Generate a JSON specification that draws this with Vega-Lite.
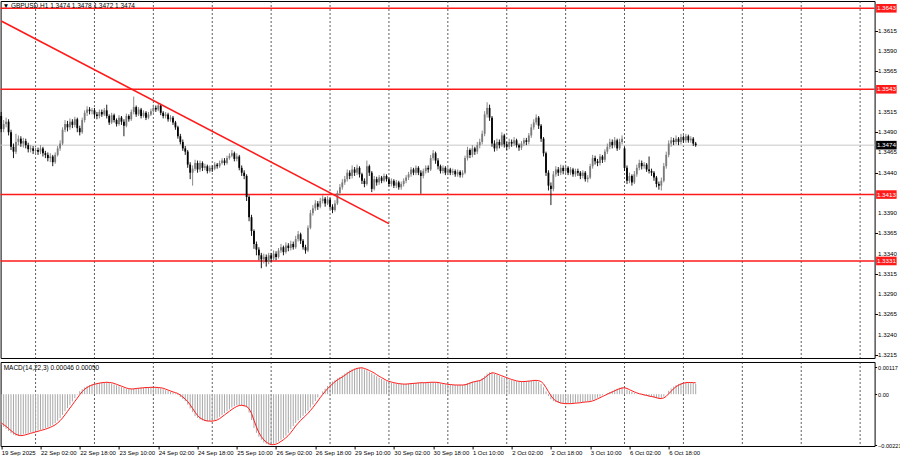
{
"$schema":"https://vega.github.io/schema/vega-lite/v6.json",
"padding":{"left":-3.4,"top":0,"right":0,"bottom":0},
"autosize":{"type":"pad"},
"background":"white",
"spacing":2,
"config":{"view":{"stroke":"#000","strokeWidth":1},"font":"Liberation Sans","axis":{"labelFont":"Liberation Sans","labelFontSize":6.2,"labelColor":"#000","tickColor":"#000","tickSize":3,"domain":false,"grid":false,"labelOverlap":false}},
"datasets":{
"grid":[{"g":14},{"g":38},{"g":62},{"g":86},{"g":110},{"g":134},{"g":158},{"g":182},{"g":206},{"g":230},{"g":254},{"g":278},{"g":302},{"g":326},{"g":350}],
"levels":[{"p":1.3643},{"p":1.3543},{"p":1.3413},{"p":1.3331}],
"ticks":[{"v":1.3215},{"v":1.3240},{"v":1.3265},{"v":1.3290},{"v":1.3315},{"v":1.3340},{"v":1.3365},{"v":1.3390},{"v":1.3440},{"v":1.3465},{"v":1.3490},{"v":1.3515},{"v":1.3565},{"v":1.3590},{"v":1.3615}],
"bars":[
{"i":0,"o":1.3510,"h":1.3515,"l":1.3490,"c":1.3494,"m":-0.00133,"s":-0.00125},
{"i":1,"o":1.3494,"h":1.3505,"l":1.3490,"c":1.3500,"m":-0.00142,"s":-0.00132},
{"i":2,"o":1.3500,"h":1.3508,"l":1.3496,"c":1.3503,"m":-0.00150,"s":-0.00140},
{"i":3,"o":1.3503,"h":1.3506,"l":1.3486,"c":1.3490,"m":-0.00160,"s":-0.00149},
{"i":4,"o":1.3490,"h":1.3493,"l":1.3468,"c":1.3472,"m":-0.00170,"s":-0.00158},
{"i":5,"o":1.3472,"h":1.3476,"l":1.3458,"c":1.3466,"m":-0.00176,"s":-0.00167},
{"i":6,"o":1.3466,"h":1.3488,"l":1.3463,"c":1.3478,"m":-0.00180,"s":-0.00174},
{"i":7,"o":1.3478,"h":1.3486,"l":1.3474,"c":1.3482,"m":-0.00182,"s":-0.00178},
{"i":8,"o":1.3482,"h":1.3485,"l":1.3472,"c":1.3476,"m":-0.00178,"s":-0.00180},
{"i":9,"o":1.3476,"h":1.3483,"l":1.3471,"c":1.3479,"m":-0.00175,"s":-0.00179},
{"i":10,"o":1.3479,"h":1.3482,"l":1.3470,"c":1.3474,"m":-0.00172,"s":-0.00176},
{"i":11,"o":1.3474,"h":1.3477,"l":1.3465,"c":1.3469,"m":-0.00170,"s":-0.00173},
{"i":12,"o":1.3469,"h":1.3474,"l":1.3465,"c":1.3470,"m":-0.00167,"s":-0.00170},
{"i":13,"o":1.3470,"h":1.3473,"l":1.3463,"c":1.3467,"m":-0.00164,"s":-0.00167},
{"i":14,"o":1.3467,"h":1.3471,"l":1.3463,"c":1.3468,"m":-0.00162,"s":-0.00164},
{"i":15,"o":1.3468,"h":1.3471,"l":1.3462,"c":1.3466,"m":-0.00158,"s":-0.00161},
{"i":16,"o":1.3466,"h":1.3474,"l":1.3463,"c":1.3470,"m":-0.00155,"s":-0.00158},
{"i":17,"o":1.3470,"h":1.3472,"l":1.3460,"c":1.3464,"m":-0.00152,"s":-0.00155},
{"i":18,"o":1.3464,"h":1.3467,"l":1.3458,"c":1.3462,"m":-0.00148,"s":-0.00152},
{"i":19,"o":1.3462,"h":1.3465,"l":1.3454,"c":1.3458,"m":-0.00144,"s":-0.00148},
{"i":20,"o":1.3458,"h":1.3464,"l":1.3453,"c":1.3460,"m":-0.00139,"s":-0.00144},
{"i":21,"o":1.3460,"h":1.3462,"l":1.3448,"c":1.3453,"m":-0.00133,"s":-0.00139},
{"i":22,"o":1.3453,"h":1.3465,"l":1.3451,"c":1.3462,"m":-0.00126,"s":-0.00133},
{"i":23,"o":1.3462,"h":1.3473,"l":1.3460,"c":1.3470,"m":-0.00115,"s":-0.00125},
{"i":24,"o":1.3470,"h":1.3480,"l":1.3467,"c":1.3476,"m":-0.00103,"s":-0.00115},
{"i":25,"o":1.3476,"h":1.3496,"l":1.3474,"c":1.3493,"m":-0.00090,"s":-0.00103},
{"i":26,"o":1.3493,"h":1.3505,"l":1.3490,"c":1.3500,"m":-0.00074,"s":-0.00089},
{"i":27,"o":1.3500,"h":1.3504,"l":1.3491,"c":1.3496,"m":-0.00060,"s":-0.00075},
{"i":28,"o":1.3496,"h":1.3507,"l":1.3493,"c":1.3503,"m":-0.00046,"s":-0.00060},
{"i":29,"o":1.3503,"h":1.3506,"l":1.3495,"c":1.3499,"m":-0.00031,"s":-0.00046},
{"i":30,"o":1.3499,"h":1.3509,"l":1.3496,"c":1.3506,"m":-0.00017,"s":-0.00031},
{"i":31,"o":1.3506,"h":1.3508,"l":1.3490,"c":1.3495,"m":-0.00002,"s":-0.00017},
{"i":32,"o":1.3495,"h":1.3498,"l":1.3486,"c":1.3490,"m":0.00013,"s":-0.00002},
{"i":33,"o":1.3490,"h":1.3508,"l":1.3488,"c":1.3505,"m":0.00022,"s":0.00011},
{"i":34,"o":1.3505,"h":1.3517,"l":1.3502,"c":1.3514,"m":0.00030,"s":0.00022},
{"i":35,"o":1.3514,"h":1.3522,"l":1.3510,"c":1.3518,"m":0.00036,"s":0.00029},
{"i":36,"o":1.3518,"h":1.3521,"l":1.3512,"c":1.3516,"m":0.00040,"s":0.00035},
{"i":37,"o":1.3516,"h":1.3520,"l":1.3512,"c":1.3517,"m":0.00043,"s":0.00040},
{"i":38,"o":1.3517,"h":1.3520,"l":1.3508,"c":1.3512,"m":0.00046,"s":0.00043},
{"i":39,"o":1.3512,"h":1.3515,"l":1.3506,"c":1.3510,"m":0.00048,"s":0.00046},
{"i":40,"o":1.3510,"h":1.3518,"l":1.3507,"c":1.3515,"m":0.00050,"s":0.00048},
{"i":41,"o":1.3515,"h":1.3518,"l":1.3509,"c":1.3512,"m":0.00051,"s":0.00050},
{"i":42,"o":1.3512,"h":1.3520,"l":1.3510,"c":1.3517,"m":0.00052,"s":0.00051},
{"i":43,"o":1.3517,"h":1.3524,"l":1.3507,"c":1.3510,"m":0.00052,"s":0.00052},
{"i":44,"o":1.3510,"h":1.3512,"l":1.3499,"c":1.3502,"m":0.00050,"s":0.00051},
{"i":45,"o":1.3502,"h":1.3514,"l":1.3500,"c":1.3511,"m":0.00047,"s":0.00050},
{"i":46,"o":1.3511,"h":1.3513,"l":1.3502,"c":1.3505,"m":0.00043,"s":0.00047},
{"i":47,"o":1.3505,"h":1.3507,"l":1.3497,"c":1.3500,"m":0.00039,"s":0.00043},
{"i":48,"o":1.3500,"h":1.3511,"l":1.3498,"c":1.3508,"m":0.00035,"s":0.00039},
{"i":49,"o":1.3508,"h":1.3510,"l":1.3499,"c":1.3503,"m":0.00031,"s":0.00035},
{"i":50,"o":1.3503,"h":1.3506,"l":1.3485,"c":1.3498,"m":0.00027,"s":0.00031},
{"i":51,"o":1.3498,"h":1.3513,"l":1.3496,"c":1.3510,"m":0.00024,"s":0.00027},
{"i":52,"o":1.3510,"h":1.3512,"l":1.3503,"c":1.3506,"m":0.00022,"s":0.00024},
{"i":53,"o":1.3506,"h":1.3518,"l":1.3504,"c":1.3515,"m":0.00023,"s":0.00023},
{"i":54,"o":1.3515,"h":1.3534,"l":1.3512,"c":1.3521,"m":0.00025,"s":0.00023},
{"i":55,"o":1.3521,"h":1.3523,"l":1.3509,"c":1.3512,"m":0.00026,"s":0.00025},
{"i":56,"o":1.3512,"h":1.3521,"l":1.3510,"c":1.3518,"m":0.00027,"s":0.00026},
{"i":57,"o":1.3518,"h":1.3520,"l":1.3507,"c":1.3510,"m":0.00028,"s":0.00027},
{"i":58,"o":1.3510,"h":1.3517,"l":1.3508,"c":1.3514,"m":0.00029,"s":0.00028},
{"i":59,"o":1.3514,"h":1.3516,"l":1.3505,"c":1.3508,"m":0.00029,"s":0.00029},
{"i":60,"o":1.3508,"h":1.3515,"l":1.3506,"c":1.3512,"m":0.00030,"s":0.00029},
{"i":61,"o":1.3512,"h":1.3519,"l":1.3510,"c":1.3516,"m":0.00030,"s":0.00030},
{"i":62,"o":1.3516,"h":1.3524,"l":1.3514,"c":1.3520,"m":0.00030,"s":0.00030},
{"i":63,"o":1.3520,"h":1.3523,"l":1.3515,"c":1.3518,"m":0.00029,"s":0.00030},
{"i":64,"o":1.3518,"h":1.3526,"l":1.3516,"c":1.3523,"m":0.00028,"s":0.00029},
{"i":65,"o":1.3523,"h":1.3525,"l":1.3511,"c":1.3514,"m":0.00026,"s":0.00028},
{"i":66,"o":1.3514,"h":1.3516,"l":1.3507,"c":1.3510,"m":0.00022,"s":0.00026},
{"i":67,"o":1.3510,"h":1.3515,"l":1.3507,"c":1.3512,"m":0.00018,"s":0.00022},
{"i":68,"o":1.3512,"h":1.3514,"l":1.3503,"c":1.3506,"m":0.00014,"s":0.00018},
{"i":69,"o":1.3506,"h":1.3511,"l":1.3503,"c":1.3508,"m":0.00010,"s":0.00014},
{"i":70,"o":1.3508,"h":1.3510,"l":1.3499,"c":1.3502,"m":0.00007,"s":0.00010},
{"i":71,"o":1.3502,"h":1.3504,"l":1.3493,"c":1.3496,"m":0.00004,"s":0.00007},
{"i":72,"o":1.3496,"h":1.3498,"l":1.3482,"c":1.3485,"m":-0.00004,"s":0.00003},
{"i":73,"o":1.3485,"h":1.3488,"l":1.3475,"c":1.3478,"m":-0.00012,"s":-0.00004},
{"i":74,"o":1.3478,"h":1.3481,"l":1.3467,"c":1.3470,"m":-0.00021,"s":-0.00012},
{"i":75,"o":1.3470,"h":1.3473,"l":1.3462,"c":1.3466,"m":-0.00030,"s":-0.00021},
{"i":76,"o":1.3466,"h":1.3468,"l":1.3446,"c":1.3450,"m":-0.00045,"s":-0.00032},
{"i":77,"o":1.3450,"h":1.3453,"l":1.3432,"c":1.3440,"m":-0.00062,"s":-0.00046},
{"i":78,"o":1.3440,"h":1.3449,"l":1.3424,"c":1.3445,"m":-0.00078,"s":-0.00062},
{"i":79,"o":1.3445,"h":1.3456,"l":1.3442,"c":1.3452,"m":-0.00095,"s":-0.00078},
{"i":80,"o":1.3452,"h":1.3455,"l":1.3440,"c":1.3444,"m":-0.00103,"s":-0.00092},
{"i":81,"o":1.3444,"h":1.3455,"l":1.3441,"c":1.3452,"m":-0.00110,"s":-0.00103},
{"i":82,"o":1.3452,"h":1.3454,"l":1.3442,"c":1.3446,"m":-0.00114,"s":-0.00109},
{"i":83,"o":1.3446,"h":1.3451,"l":1.3443,"c":1.3448,"m":-0.00117,"s":-0.00114},
{"i":84,"o":1.3448,"h":1.3450,"l":1.3439,"c":1.3442,"m":-0.00118,"s":-0.00116},
{"i":85,"o":1.3442,"h":1.3449,"l":1.3440,"c":1.3446,"m":-0.00117,"s":-0.00117},
{"i":86,"o":1.3446,"h":1.3449,"l":1.3441,"c":1.3445,"m":-0.00116,"s":-0.00117},
{"i":87,"o":1.3445,"h":1.3453,"l":1.3443,"c":1.3450,"m":-0.00113,"s":-0.00115},
{"i":88,"o":1.3450,"h":1.3452,"l":1.3445,"c":1.3448,"m":-0.00106,"s":-0.00112},
{"i":89,"o":1.3448,"h":1.3455,"l":1.3446,"c":1.3452,"m":-0.00098,"s":-0.00106},
{"i":90,"o":1.3452,"h":1.3458,"l":1.3450,"c":1.3455,"m":-0.00090,"s":-0.00098},
{"i":91,"o":1.3455,"h":1.3458,"l":1.3449,"c":1.3452,"m":-0.00082,"s":-0.00090},
{"i":92,"o":1.3452,"h":1.3461,"l":1.3450,"c":1.3458,"m":-0.00074,"s":-0.00082},
{"i":93,"o":1.3458,"h":1.3464,"l":1.3456,"c":1.3461,"m":-0.00066,"s":-0.00074},
{"i":94,"o":1.3461,"h":1.3468,"l":1.3459,"c":1.3464,"m":-0.00058,"s":-0.00066},
{"i":95,"o":1.3464,"h":1.3466,"l":1.3454,"c":1.3457,"m":-0.00052,"s":-0.00059},
{"i":96,"o":1.3457,"h":1.3464,"l":1.3454,"c":1.3460,"m":-0.00048,"s":-0.00053},
{"i":97,"o":1.3460,"h":1.3462,"l":1.3443,"c":1.3446,"m":-0.00047,"s":-0.00049},
{"i":98,"o":1.3446,"h":1.3449,"l":1.3436,"c":1.3440,"m":-0.00049,"s":-0.00048},
{"i":99,"o":1.3440,"h":1.3443,"l":1.3432,"c":1.3436,"m":-0.00053,"s":-0.00050},
{"i":100,"o":1.3436,"h":1.3438,"l":1.3405,"c":1.3410,"m":-0.00057,"s":-0.00053},
{"i":101,"o":1.3410,"h":1.3412,"l":1.3380,"c":1.3385,"m":-0.00080,"s":-0.00063},
{"i":102,"o":1.3385,"h":1.3388,"l":1.3362,"c":1.3368,"m":-0.00112,"s":-0.00083},
{"i":103,"o":1.3368,"h":1.3370,"l":1.3346,"c":1.3352,"m":-0.00147,"s":-0.00113},
{"i":104,"o":1.3352,"h":1.3355,"l":1.3338,"c":1.3345,"m":-0.00168,"s":-0.00142},
{"i":105,"o":1.3345,"h":1.3348,"l":1.3332,"c":1.3338,"m":-0.00185,"s":-0.00167},
{"i":106,"o":1.3338,"h":1.3341,"l":1.3322,"c":1.3333,"m":-0.00198,"s":-0.00184},
{"i":107,"o":1.3333,"h":1.3340,"l":1.3328,"c":1.3336,"m":-0.00210,"s":-0.00198},
{"i":108,"o":1.3336,"h":1.3339,"l":1.3324,"c":1.3330,"m":-0.00216,"s":-0.00208},
{"i":109,"o":1.3330,"h":1.3341,"l":1.3327,"c":1.3338,"m":-0.00219,"s":-0.00215},
{"i":110,"o":1.3338,"h":1.3341,"l":1.3330,"c":1.3334,"m":-0.00221,"s":-0.00219},
{"i":111,"o":1.3334,"h":1.3344,"l":1.3331,"c":1.3340,"m":-0.00218,"s":-0.00219},
{"i":112,"o":1.3340,"h":1.3343,"l":1.3332,"c":1.3336,"m":-0.00212,"s":-0.00217},
{"i":113,"o":1.3336,"h":1.3347,"l":1.3334,"c":1.3344,"m":-0.00205,"s":-0.00212},
{"i":114,"o":1.3344,"h":1.3352,"l":1.3341,"c":1.3348,"m":-0.00198,"s":-0.00205},
{"i":115,"o":1.3348,"h":1.3350,"l":1.3338,"c":1.3342,"m":-0.00190,"s":-0.00198},
{"i":116,"o":1.3342,"h":1.3354,"l":1.3340,"c":1.3350,"m":-0.00180,"s":-0.00189},
{"i":117,"o":1.3350,"h":1.3353,"l":1.3343,"c":1.3347,"m":-0.00168,"s":-0.00179},
{"i":118,"o":1.3347,"h":1.3356,"l":1.3344,"c":1.3352,"m":-0.00152,"s":-0.00167},
{"i":119,"o":1.3352,"h":1.3355,"l":1.3345,"c":1.3348,"m":-0.00138,"s":-0.00153},
{"i":120,"o":1.3348,"h":1.3362,"l":1.3346,"c":1.3358,"m":-0.00125,"s":-0.00138},
{"i":121,"o":1.3358,"h":1.3368,"l":1.3355,"c":1.3364,"m":-0.00114,"s":-0.00126},
{"i":122,"o":1.3364,"h":1.3366,"l":1.3352,"c":1.3356,"m":-0.00104,"s":-0.00114},
{"i":123,"o":1.3356,"h":1.3358,"l":1.3345,"c":1.3348,"m":-0.00094,"s":-0.00104},
{"i":124,"o":1.3348,"h":1.3351,"l":1.3340,"c":1.3344,"m":-0.00084,"s":-0.00094},
{"i":125,"o":1.3344,"h":1.3375,"l":1.3342,"c":1.3372,"m":-0.00072,"s":-0.00083},
{"i":126,"o":1.3372,"h":1.3394,"l":1.3370,"c":1.3390,"m":-0.00058,"s":-0.00071},
{"i":127,"o":1.3390,"h":1.3400,"l":1.3387,"c":1.3396,"m":-0.00045,"s":-0.00058},
{"i":128,"o":1.3396,"h":1.3406,"l":1.3393,"c":1.3402,"m":-0.00030,"s":-0.00044},
{"i":129,"o":1.3402,"h":1.3405,"l":1.3394,"c":1.3398,"m":-0.00014,"s":-0.00030},
{"i":130,"o":1.3398,"h":1.3409,"l":1.3396,"c":1.3405,"m":0.00000,"s":-0.00015},
{"i":131,"o":1.3405,"h":1.3412,"l":1.3402,"c":1.3408,"m":0.00012,"s":-0.00001},
{"i":132,"o":1.3408,"h":1.3410,"l":1.3398,"c":1.3402,"m":0.00024,"s":0.00012},
{"i":133,"o":1.3402,"h":1.3411,"l":1.3400,"c":1.3407,"m":0.00036,"s":0.00024},
{"i":134,"o":1.3407,"h":1.3409,"l":1.3395,"c":1.3398,"m":0.00046,"s":0.00035},
{"i":135,"o":1.3398,"h":1.3401,"l":1.3390,"c":1.3394,"m":0.00055,"s":0.00045},
{"i":136,"o":1.3394,"h":1.3406,"l":1.3392,"c":1.3402,"m":0.00062,"s":0.00054},
{"i":137,"o":1.3402,"h":1.3418,"l":1.3400,"c":1.3415,"m":0.00069,"s":0.00062},
{"i":138,"o":1.3415,"h":1.3426,"l":1.3412,"c":1.3422,"m":0.00075,"s":0.00069},
{"i":139,"o":1.3422,"h":1.3432,"l":1.3419,"c":1.3428,"m":0.00082,"s":0.00075},
{"i":140,"o":1.3428,"h":1.3436,"l":1.3425,"c":1.3432,"m":0.00090,"s":0.00082},
{"i":141,"o":1.3432,"h":1.3444,"l":1.3429,"c":1.3440,"m":0.00097,"s":0.00090},
{"i":142,"o":1.3440,"h":1.3443,"l":1.3432,"c":1.3436,"m":0.00103,"s":0.00097},
{"i":143,"o":1.3436,"h":1.3449,"l":1.3433,"c":1.3444,"m":0.00108,"s":0.00103},
{"i":144,"o":1.3444,"h":1.3447,"l":1.3436,"c":1.3440,"m":0.00112,"s":0.00108},
{"i":145,"o":1.3440,"h":1.3450,"l":1.3437,"c":1.3446,"m":0.00115,"s":0.00112},
{"i":146,"o":1.3446,"h":1.3448,"l":1.3434,"c":1.3438,"m":0.00116,"s":0.00114},
{"i":147,"o":1.3438,"h":1.3440,"l":1.3426,"c":1.3430,"m":0.00113,"s":0.00115},
{"i":148,"o":1.3430,"h":1.3433,"l":1.3422,"c":1.3426,"m":0.00108,"s":0.00112},
{"i":149,"o":1.3426,"h":1.3455,"l":1.3424,"c":1.3448,"m":0.00104,"s":0.00108},
{"i":150,"o":1.3448,"h":1.3450,"l":1.3436,"c":1.3440,"m":0.00098,"s":0.00103},
{"i":151,"o":1.3440,"h":1.3442,"l":1.3416,"c":1.3420,"m":0.00092,"s":0.00098},
{"i":152,"o":1.3420,"h":1.3436,"l":1.3418,"c":1.3432,"m":0.00085,"s":0.00092},
{"i":153,"o":1.3432,"h":1.3435,"l":1.3424,"c":1.3428,"m":0.00078,"s":0.00085},
{"i":154,"o":1.3428,"h":1.3437,"l":1.3425,"c":1.3434,"m":0.00072,"s":0.00078},
{"i":155,"o":1.3434,"h":1.3436,"l":1.3427,"c":1.3430,"m":0.00066,"s":0.00072},
{"i":156,"o":1.3430,"h":1.3439,"l":1.3428,"c":1.3436,"m":0.00060,"s":0.00066},
{"i":157,"o":1.3436,"h":1.3438,"l":1.3429,"c":1.3432,"m":0.00056,"s":0.00060},
{"i":158,"o":1.3432,"h":1.3434,"l":1.3423,"c":1.3426,"m":0.00052,"s":0.00056},
{"i":159,"o":1.3426,"h":1.3433,"l":1.3423,"c":1.3430,"m":0.00050,"s":0.00053},
{"i":160,"o":1.3430,"h":1.3432,"l":1.3421,"c":1.3424,"m":0.00048,"s":0.00050},
{"i":161,"o":1.3424,"h":1.3431,"l":1.3421,"c":1.3428,"m":0.00046,"s":0.00048},
{"i":162,"o":1.3428,"h":1.3430,"l":1.3419,"c":1.3422,"m":0.00045,"s":0.00046},
{"i":163,"o":1.3422,"h":1.3429,"l":1.3419,"c":1.3426,"m":0.00044,"s":0.00045},
{"i":164,"o":1.3426,"h":1.3433,"l":1.3423,"c":1.3430,"m":0.00044,"s":0.00044},
{"i":165,"o":1.3430,"h":1.3437,"l":1.3427,"c":1.3434,"m":0.00045,"s":0.00044},
{"i":166,"o":1.3434,"h":1.3441,"l":1.3431,"c":1.3438,"m":0.00046,"s":0.00045},
{"i":167,"o":1.3438,"h":1.3447,"l":1.3435,"c":1.3444,"m":0.00047,"s":0.00046},
{"i":168,"o":1.3444,"h":1.3446,"l":1.3437,"c":1.3440,"m":0.00048,"s":0.00047},
{"i":169,"o":1.3440,"h":1.3449,"l":1.3437,"c":1.3446,"m":0.00049,"s":0.00048},
{"i":170,"o":1.3446,"h":1.3448,"l":1.3437,"c":1.3440,"m":0.00050,"s":0.00049},
{"i":171,"o":1.3440,"h":1.3443,"l":1.3414,"c":1.3436,"m":0.00050,"s":0.00050},
{"i":172,"o":1.3436,"h":1.3445,"l":1.3433,"c":1.3442,"m":0.00050,"s":0.00050},
{"i":173,"o":1.3442,"h":1.3449,"l":1.3439,"c":1.3446,"m":0.00051,"s":0.00050},
{"i":174,"o":1.3446,"h":1.3449,"l":1.3440,"c":1.3444,"m":0.00052,"s":0.00051},
{"i":175,"o":1.3444,"h":1.3462,"l":1.3442,"c":1.3458,"m":0.00052,"s":0.00052},
{"i":176,"o":1.3458,"h":1.3468,"l":1.3455,"c":1.3464,"m":0.00052,"s":0.00052},
{"i":177,"o":1.3464,"h":1.3466,"l":1.3451,"c":1.3455,"m":0.00051,"s":0.00052},
{"i":178,"o":1.3455,"h":1.3458,"l":1.3444,"c":1.3448,"m":0.00049,"s":0.00051},
{"i":179,"o":1.3448,"h":1.3450,"l":1.3439,"c":1.3442,"m":0.00047,"s":0.00049},
{"i":180,"o":1.3442,"h":1.3449,"l":1.3439,"c":1.3446,"m":0.00045,"s":0.00047},
{"i":181,"o":1.3446,"h":1.3448,"l":1.3437,"c":1.3440,"m":0.00043,"s":0.00045},
{"i":182,"o":1.3440,"h":1.3447,"l":1.3437,"c":1.3444,"m":0.00042,"s":0.00043},
{"i":183,"o":1.3444,"h":1.3446,"l":1.3437,"c":1.3440,"m":0.00041,"s":0.00042},
{"i":184,"o":1.3440,"h":1.3445,"l":1.3437,"c":1.3442,"m":0.00040,"s":0.00041},
{"i":185,"o":1.3442,"h":1.3444,"l":1.3435,"c":1.3438,"m":0.00040,"s":0.00040},
{"i":186,"o":1.3438,"h":1.3444,"l":1.3435,"c":1.3441,"m":0.00040,"s":0.00040},
{"i":187,"o":1.3441,"h":1.3443,"l":1.3434,"c":1.3437,"m":0.00040,"s":0.00040},
{"i":188,"o":1.3437,"h":1.3443,"l":1.3434,"c":1.3440,"m":0.00040,"s":0.00040},
{"i":189,"o":1.3440,"h":1.3461,"l":1.3438,"c":1.3458,"m":0.00043,"s":0.00041},
{"i":190,"o":1.3458,"h":1.3472,"l":1.3455,"c":1.3468,"m":0.00048,"s":0.00044},
{"i":191,"o":1.3468,"h":1.3470,"l":1.3458,"c":1.3462,"m":0.00052,"s":0.00048},
{"i":192,"o":1.3462,"h":1.3474,"l":1.3459,"c":1.3470,"m":0.00055,"s":0.00052},
{"i":193,"o":1.3470,"h":1.3472,"l":1.3462,"c":1.3466,"m":0.00057,"s":0.00055},
{"i":194,"o":1.3466,"h":1.3478,"l":1.3463,"c":1.3474,"m":0.00059,"s":0.00057},
{"i":195,"o":1.3474,"h":1.3482,"l":1.3470,"c":1.3478,"m":0.00062,"s":0.00059},
{"i":196,"o":1.3478,"h":1.3492,"l":1.3475,"c":1.3488,"m":0.00070,"s":0.00064},
{"i":197,"o":1.3488,"h":1.3516,"l":1.3485,"c":1.3512,"m":0.00080,"s":0.00071},
{"i":198,"o":1.3512,"h":1.3527,"l":1.3508,"c":1.3520,"m":0.00090,"s":0.00080},
{"i":199,"o":1.3520,"h":1.3524,"l":1.3504,"c":1.3508,"m":0.00095,"s":0.00088},
{"i":200,"o":1.3508,"h":1.3510,"l":1.3472,"c":1.3476,"m":0.00093,"s":0.00093},
{"i":201,"o":1.3476,"h":1.3480,"l":1.3466,"c":1.3470,"m":0.00088,"s":0.00092},
{"i":202,"o":1.3470,"h":1.3482,"l":1.3467,"c":1.3478,"m":0.00084,"s":0.00088},
{"i":203,"o":1.3478,"h":1.3481,"l":1.3470,"c":1.3474,"m":0.00080,"s":0.00084},
{"i":204,"o":1.3474,"h":1.3490,"l":1.3472,"c":1.3486,"m":0.00076,"s":0.00080},
{"i":205,"o":1.3486,"h":1.3488,"l":1.3471,"c":1.3475,"m":0.00072,"s":0.00076},
{"i":206,"o":1.3475,"h":1.3478,"l":1.3468,"c":1.3472,"m":0.00068,"s":0.00072},
{"i":207,"o":1.3472,"h":1.3482,"l":1.3469,"c":1.3478,"m":0.00064,"s":0.00068},
{"i":208,"o":1.3478,"h":1.3481,"l":1.3472,"c":1.3476,"m":0.00061,"s":0.00064},
{"i":209,"o":1.3476,"h":1.3484,"l":1.3473,"c":1.3480,"m":0.00058,"s":0.00061},
{"i":210,"o":1.3480,"h":1.3482,"l":1.3471,"c":1.3474,"m":0.00056,"s":0.00058},
{"i":211,"o":1.3474,"h":1.3476,"l":1.3467,"c":1.3471,"m":0.00055,"s":0.00056},
{"i":212,"o":1.3471,"h":1.3479,"l":1.3468,"c":1.3476,"m":0.00055,"s":0.00055},
{"i":213,"o":1.3476,"h":1.3483,"l":1.3473,"c":1.3480,"m":0.00056,"s":0.00055},
{"i":214,"o":1.3480,"h":1.3483,"l":1.3474,"c":1.3478,"m":0.00057,"s":0.00056},
{"i":215,"o":1.3478,"h":1.3489,"l":1.3475,"c":1.3486,"m":0.00058,"s":0.00057},
{"i":216,"o":1.3486,"h":1.3500,"l":1.3483,"c":1.3496,"m":0.00060,"s":0.00058},
{"i":217,"o":1.3496,"h":1.3506,"l":1.3493,"c":1.3502,"m":0.00061,"s":0.00060},
{"i":218,"o":1.3502,"h":1.3512,"l":1.3499,"c":1.3508,"m":0.00060,"s":0.00060},
{"i":219,"o":1.3508,"h":1.3510,"l":1.3494,"c":1.3498,"m":0.00055,"s":0.00059},
{"i":220,"o":1.3498,"h":1.3500,"l":1.3478,"c":1.3482,"m":0.00045,"s":0.00055},
{"i":221,"o":1.3482,"h":1.3484,"l":1.3460,"c":1.3464,"m":0.00030,"s":0.00045},
{"i":222,"o":1.3464,"h":1.3466,"l":1.3436,"c":1.3440,"m":0.00012,"s":0.00029},
{"i":223,"o":1.3440,"h":1.3443,"l":1.3418,"c":1.3424,"m":-0.00008,"s":0.00011},
{"i":224,"o":1.3424,"h":1.3428,"l":1.3400,"c":1.3420,"m":-0.00022,"s":-0.00006},
{"i":225,"o":1.3420,"h":1.3442,"l":1.3417,"c":1.3438,"m":-0.00030,"s":-0.00020},
{"i":226,"o":1.3438,"h":1.3448,"l":1.3435,"c":1.3444,"m":-0.00035,"s":-0.00029},
{"i":227,"o":1.3444,"h":1.3447,"l":1.3436,"c":1.3440,"m":-0.00038,"s":-0.00034},
{"i":228,"o":1.3440,"h":1.3450,"l":1.3437,"c":1.3446,"m":-0.00040,"s":-0.00038},
{"i":229,"o":1.3446,"h":1.3449,"l":1.3438,"c":1.3442,"m":-0.00041,"s":-0.00040},
{"i":230,"o":1.3442,"h":1.3450,"l":1.3439,"c":1.3446,"m":-0.00041,"s":-0.00041},
{"i":231,"o":1.3446,"h":1.3448,"l":1.3437,"c":1.3440,"m":-0.00041,"s":-0.00041},
{"i":232,"o":1.3440,"h":1.3447,"l":1.3437,"c":1.3444,"m":-0.00040,"s":-0.00041},
{"i":233,"o":1.3444,"h":1.3446,"l":1.3435,"c":1.3438,"m":-0.00039,"s":-0.00040},
{"i":234,"o":1.3438,"h":1.3445,"l":1.3435,"c":1.3442,"m":-0.00038,"s":-0.00039},
{"i":235,"o":1.3442,"h":1.3445,"l":1.3436,"c":1.3440,"m":-0.00037,"s":-0.00038},
{"i":236,"o":1.3440,"h":1.3442,"l":1.3432,"c":1.3436,"m":-0.00035,"s":-0.00037},
{"i":237,"o":1.3436,"h":1.3443,"l":1.3433,"c":1.3440,"m":-0.00034,"s":-0.00035},
{"i":238,"o":1.3440,"h":1.3442,"l":1.3429,"c":1.3432,"m":-0.00033,"s":-0.00034},
{"i":239,"o":1.3432,"h":1.3437,"l":1.3428,"c":1.3434,"m":-0.00032,"s":-0.00033},
{"i":240,"o":1.3434,"h":1.3451,"l":1.3432,"c":1.3448,"m":-0.00030,"s":-0.00032},
{"i":241,"o":1.3448,"h":1.3462,"l":1.3445,"c":1.3458,"m":-0.00025,"s":-0.00029},
{"i":242,"o":1.3458,"h":1.3461,"l":1.3450,"c":1.3454,"m":-0.00020,"s":-0.00025},
{"i":243,"o":1.3454,"h":1.3457,"l":1.3448,"c":1.3452,"m":-0.00015,"s":-0.00020},
{"i":244,"o":1.3452,"h":1.3463,"l":1.3449,"c":1.3460,"m":-0.00010,"s":-0.00015},
{"i":245,"o":1.3460,"h":1.3462,"l":1.3452,"c":1.3456,"m":-0.00005,"s":-0.00010},
{"i":246,"o":1.3456,"h":1.3469,"l":1.3453,"c":1.3466,"m":0.00000,"s":-0.00005},
{"i":247,"o":1.3466,"h":1.3476,"l":1.3463,"c":1.3472,"m":0.00005,"s":0.00000},
{"i":248,"o":1.3472,"h":1.3482,"l":1.3469,"c":1.3478,"m":0.00010,"s":0.00005},
{"i":249,"o":1.3478,"h":1.3481,"l":1.3470,"c":1.3474,"m":0.00015,"s":0.00010},
{"i":250,"o":1.3474,"h":1.3484,"l":1.3471,"c":1.3480,"m":0.00020,"s":0.00015},
{"i":251,"o":1.3480,"h":1.3482,"l":1.3467,"c":1.3470,"m":0.00024,"s":0.00020},
{"i":252,"o":1.3470,"h":1.3482,"l":1.3468,"c":1.3478,"m":0.00028,"s":0.00024},
{"i":253,"o":1.3478,"h":1.3486,"l":1.3475,"c":1.3482,"m":0.00030,"s":0.00027},
{"i":254,"o":1.3470,"h":1.3472,"l":1.3442,"c":1.3446,"m":0.00026,"s":0.00028},
{"i":255,"o":1.3446,"h":1.3449,"l":1.3426,"c":1.3430,"m":0.00020,"s":0.00025},
{"i":256,"o":1.3430,"h":1.3440,"l":1.3427,"c":1.3436,"m":0.00015,"s":0.00020},
{"i":257,"o":1.3436,"h":1.3438,"l":1.3424,"c":1.3428,"m":0.00011,"s":0.00015},
{"i":258,"o":1.3428,"h":1.3442,"l":1.3426,"c":1.3438,"m":0.00005,"s":0.00010},
{"i":259,"o":1.3438,"h":1.3450,"l":1.3435,"c":1.3446,"m":0.00002,"s":0.00006},
{"i":260,"o":1.3446,"h":1.3456,"l":1.3443,"c":1.3452,"m":0.00000,"s":0.00002},
{"i":261,"o":1.3452,"h":1.3455,"l":1.3444,"c":1.3448,"m":-0.00003,"s":0.00000},
{"i":262,"o":1.3448,"h":1.3453,"l":1.3445,"c":1.3450,"m":-0.00005,"s":-0.00003},
{"i":263,"o":1.3450,"h":1.3452,"l":1.3441,"c":1.3444,"m":-0.00008,"s":-0.00005},
{"i":264,"o":1.3444,"h":1.3460,"l":1.3439,"c":1.3442,"m":-0.00010,"s":-0.00008},
{"i":265,"o":1.3442,"h":1.3445,"l":1.3436,"c":1.3440,"m":-0.00012,"s":-0.00010},
{"i":266,"o":1.3440,"h":1.3442,"l":1.3430,"c":1.3434,"m":-0.00015,"s":-0.00012},
{"i":267,"o":1.3434,"h":1.3436,"l":1.3422,"c":1.3426,"m":-0.00018,"s":-0.00015},
{"i":268,"o":1.3426,"h":1.3429,"l":1.3419,"c":1.3424,"m":-0.00020,"s":-0.00018},
{"i":269,"o":1.3424,"h":1.3434,"l":1.3418,"c":1.3430,"m":-0.00018,"s":-0.00019},
{"i":270,"o":1.3430,"h":1.3452,"l":1.3428,"c":1.3448,"m":-0.00010,"s":-0.00016},
{"i":271,"o":1.3448,"h":1.3466,"l":1.3445,"c":1.3462,"m":0.00000,"s":-0.00009},
{"i":272,"o":1.3462,"h":1.3480,"l":1.3459,"c":1.3476,"m":0.00015,"s":0.00002},
{"i":273,"o":1.3476,"h":1.3484,"l":1.3472,"c":1.3480,"m":0.00025,"s":0.00013},
{"i":274,"o":1.3480,"h":1.3483,"l":1.3474,"c":1.3478,"m":0.00033,"s":0.00024},
{"i":275,"o":1.3478,"h":1.3486,"l":1.3475,"c":1.3482,"m":0.00040,"s":0.00033},
{"i":276,"o":1.3482,"h":1.3484,"l":1.3474,"c":1.3478,"m":0.00045,"s":0.00039},
{"i":277,"o":1.3478,"h":1.3488,"l":1.3475,"c":1.3484,"m":0.00048,"s":0.00044},
{"i":278,"o":1.3484,"h":1.3486,"l":1.3477,"c":1.3480,"m":0.00050,"s":0.00048},
{"i":279,"o":1.3480,"h":1.3488,"l":1.3477,"c":1.3485,"m":0.00052,"s":0.00050},
{"i":280,"o":1.3485,"h":1.3487,"l":1.3477,"c":1.3480,"m":0.00051,"s":0.00051},
{"i":281,"o":1.3480,"h":1.3485,"l":1.3477,"c":1.3482,"m":0.00050,"s":0.00051},
{"i":282,"o":1.3482,"h":1.3484,"l":1.3473,"c":1.3476,"m":0.00048,"s":0.00050},
{"i":283,"o":1.3476,"h":1.3478,"l":1.3472,"c":1.3474,"m":0.00046,"s":0.00050}
]},
"vconcat":[
{"width":874,"height":357,
"layer":[
{"data":{"name":"grid"},"mark":{"type":"rule","strokeDash":[2,2],"color":"#333","strokeWidth":0.8},
 "encoding":{"x":{"field":"g","type":"quantitative","scale":{"domain":[-0.25,355.9],"nice":false,"zero":false},"axis":null}}},
{"data":{"values":[{"p":1.3474}]},"mark":{"type":"rule","color":"#c8c8c8","strokeWidth":1},
 "encoding":{"y":{"field":"p","type":"quantitative","scale":{"domain":[1.32112,1.3652],"nice":false,"zero":false},
  "axis":{"orient":"right","values":[1.3215,1.324,1.3265,1.329,1.3315,1.334,1.3365,1.339,1.344,1.3465,1.349,1.3515,1.3565,1.359,1.3615],"labels":false,"title":null}}}},
{"data":{"name":"ticks"},"mark":{"type":"text","align":"left","baseline":"middle","fontSize":6.2,"color":"#000","font":"Liberation Sans"},
 "encoding":{"x":{"datum":357.3,"type":"quantitative","axis":null},"y":{"field":"v","type":"quantitative"},"text":{"field":"v","type":"quantitative","format":".4f"}}},
{"data":{"name":"levels"},"mark":{"type":"rule","color":"#ff1a1a","strokeWidth":1.6},
 "encoding":{"y":{"field":"p","type":"quantitative"}}},
{"data":{"name":"bars"},"mark":{"type":"rule","strokeWidth":0.9},
 "encoding":{"x":{"field":"i","type":"quantitative","axis":null},"y":{"field":"l","type":"quantitative"},"y2":{"field":"h"},
  "color":{"condition":{"test":"datum.c >= datum.o","value":"#7a7a7a"},"value":"#000000"}}},
{"data":{"name":"bars"},"mark":{"type":"rule","strokeWidth":1.8,"strokeCap":"butt"},
 "encoding":{"x":{"field":"i","type":"quantitative","axis":null},"y":{"field":"o","type":"quantitative"},"y2":{"field":"c"},
  "color":{"condition":{"test":"datum.c >= datum.o","value":"#7a7a7a"},"value":"#000000"}}},
{"data":{"values":[{"i":0,"p":1.36273},{"i":158,"p":1.33771}]},"mark":{"type":"line","color":"#ff1a1a","strokeWidth":1.6},
 "encoding":{"x":{"field":"i","type":"quantitative","axis":null},"y":{"field":"p","type":"quantitative"}}},
{"data":{"values":[{"p":1.3643,"t":"1.3643","k":"lvl"},{"p":1.3543,"t":"1.3543","k":"lvl"},{"p":1.3413,"t":"1.3413","k":"lvl"},{"p":1.3331,"t":"1.3331","k":"lvl"},{"p":1.3474,"t":"1.3474","k":"bid"}]},
 "layer":[
  {"mark":{"type":"point","shape":"M-1,-0.42H1V0.42H-1Z","filled":true,"size":420,"opacity":1},
   "encoding":{"x":{"datum":360.7,"type":"quantitative","axis":null},"y":{"field":"p","type":"quantitative"},
    "color":{"condition":{"test":"datum.k == 'bid'","value":"#000000"},"value":"#ff1a1a"}}},
  {"mark":{"type":"text","color":"#ffffff","fontSize":6.2,"align":"center","baseline":"middle","font":"Liberation Sans"},
   "encoding":{"x":{"datum":360.7,"type":"quantitative","axis":null},"y":{"field":"p","type":"quantitative"},"text":{"field":"t"}}}
 ]},
{"data":{"values":[{"t":"▼ GBPUSD,H1  1.3474 1.3478 1.3472 1.3474"}]},"mark":{"type":"text","align":"left","baseline":"middle","fontSize":6.5,"color":"#000","font":"Liberation Sans"},
 "encoding":{"x":{"datum":0.6,"type":"quantitative","axis":null},"y":{"datum":1.36459,"type":"quantitative"},"text":{"field":"t"}}}
]},
{"width":874,"height":84,
"layer":[
{"data":{"name":"grid"},"mark":{"type":"rule","strokeDash":[2,2],"color":"#333","strokeWidth":0.8},
 "encoding":{"x":{"field":"g","type":"quantitative","scale":{"domain":[-0.25,355.9],"nice":false,"zero":false},
  "axis":{"orient":"bottom","values":[0,16,32,48,64,80,96,112,128,144,160,176,192,208,224,240,256,272],"labelAlign":"left","labelPadding":1,"labelFontSize":6,"labelFlush":false,"labelOverlap":false,
   "labelExpr":"['19 Sep 2025','22 Sep 02:00','22 Sep 18:00','23 Sep 10:00','24 Sep 02:00','24 Sep 18:00','25 Sep 10:00','26 Sep 02:00','26 Sep 18:00','29 Sep 10:00','30 Sep 02:00','30 Sep 18:00','1 Oct 10:00','2 Oct 02:00','2 Oct 18:00','3 Oct 10:00','6 Oct 02:00','6 Oct 18:00'][round(datum.value/16)]","title":null}}}},
{"data":{"name":"bars"},"mark":{"type":"rule","color":"#a8a8a8","strokeWidth":1},
 "encoding":{"x":{"field":"i","type":"quantitative"},"y":{"field":"m","type":"quantitative","scale":{"domain":[-0.00225,0.0014],"nice":false,"zero":false},
  "axis":{"orient":"right","values":[-0.00221,0,0.00117],"labelExpr":"datum.value == 0 ? '0.00' : format(datum.value, '.5f')","tickSize":2,"labelPadding":1,"labelFlush":false,"labelOverlap":false,"labelFontSize":5.6,"title":null}},"y2":{"datum":0}}},
{"data":{"name":"bars"},"mark":{"type":"line","color":"#ff1a1a","strokeWidth":1},
 "encoding":{"x":{"field":"i","type":"quantitative"},"y":{"field":"s","type":"quantitative"}}},
{"data":{"values":[{"t":"MACD(14,22,3) 0.00046 0.00050"}]},"mark":{"type":"text","align":"left","baseline":"middle","fontSize":6.5,"color":"#000","font":"Liberation Sans"},
 "encoding":{"x":{"datum":1,"type":"quantitative"},"y":{"datum":0.00112,"type":"quantitative"},"text":{"field":"t"}}}
]}
]
}
